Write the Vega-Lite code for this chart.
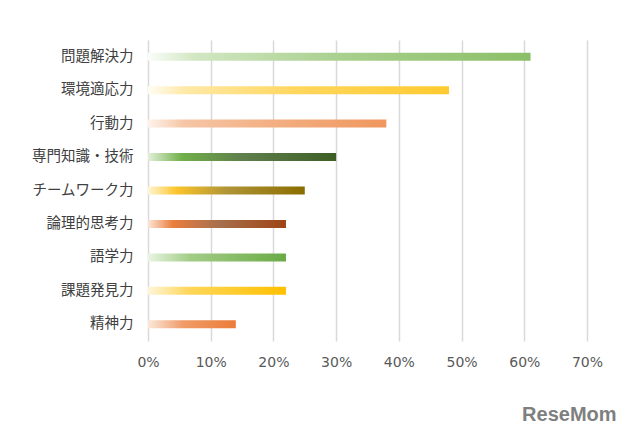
{
  "$schema": "https://vega.github.io/schema/vega-lite/v6.json",
  "autosize": "none",
  "width": 439,
  "height": 301,
  "padding": {"left": 148, "top": 40, "right": 53, "bottom": 97},
  "background": "#ffffff",
  "config": {"view": {"stroke": null}},
  "title": {"text": "ReseMom", "orient": "bottom", "anchor": "end", "fontSize": 20, "font": "Liberation Sans", "fontWeight": "bold", "color": "#7f7f7f", "offset": 36, "dx": 14},
  "data": {"values": [
    {"cat": "問題解決力", "value": 0.61},
    {"cat": "環境適応力", "value": 0.48},
    {"cat": "行動力", "value": 0.38},
    {"cat": "専門知識・技術", "value": 0.30},
    {"cat": "チームワーク力", "value": 0.25},
    {"cat": "論理的思考力", "value": 0.22},
    {"cat": "語学力", "value": 0.22},
    {"cat": "課題発見力", "value": 0.22},
    {"cat": "精神力", "value": 0.14}
  ]},
  "encoding": {
    "y": {"field": "cat", "type": "nominal", "title": null,
      "scale": {"domain": ["問題解決力","環境適応力","行動力","専門知識・技術","チームワーク力","論理的思考力","語学力","課題発見力","精神力"], "paddingInner": 0.75, "paddingOuter": 0.375},
      "axis": {"domain": false, "ticks": false, "labelPadding": 15, "labelFont": "Noto Sans CJK JP", "labelFontSize": 14.5, "labelColor": "#404040", "grid": false}},
    "x": {"field": "value", "type": "quantitative", "title": null,
      "scale": {"domain": [0, 0.7], "nice": false, "zero": true},
      "axis": {"format": ".0%", "values": [0,0.1,0.2,0.3,0.4,0.5,0.6,0.7], "domain": false, "ticks": false, "grid": true, "gridColor": "#d9d9d9", "gridWidth": 1.5, "labelFlush": false, "labelFont": "DejaVu Sans", "labelFontSize": 14, "labelColor": "#595959", "labelPadding": 14}}
  },
  "layer": [
    {"transform": [{"filter": "datum.cat === '問題解決力'"}], "mark": {"type": "bar", "height": 8, "fill": {"gradient": "linear", "x1": 0, "y1": 0, "x2": 1, "y2": 0, "stops": [{"offset": 0, "color": "#fbfdf9"}, {"offset": 0.12, "color": "#d2e7c4"}, {"offset": 0.5, "color": "#a9d08e"}, {"offset": 1, "color": "#8bbf67"}]}}},
    {"transform": [{"filter": "datum.cat === '環境適応力'"}], "mark": {"type": "bar", "height": 8, "fill": {"gradient": "linear", "x1": 0, "y1": 0, "x2": 1, "y2": 0, "stops": [{"offset": 0, "color": "#fffdf4"}, {"offset": 0.12, "color": "#ffe9a8"}, {"offset": 0.5, "color": "#ffd65c"}, {"offset": 1, "color": "#ffca30"}]}}},
    {"transform": [{"filter": "datum.cat === '行動力'"}], "mark": {"type": "bar", "height": 8, "fill": {"gradient": "linear", "x1": 0, "y1": 0, "x2": 1, "y2": 0, "stops": [{"offset": 0, "color": "#fdf3ec"}, {"offset": 0.15, "color": "#f6c6a6"}, {"offset": 0.55, "color": "#f3ad80"}, {"offset": 1, "color": "#ef975e"}]}}},
    {"transform": [{"filter": "datum.cat === '専門知識・技術'"}], "mark": {"type": "bar", "height": 8, "fill": {"gradient": "linear", "x1": 0, "y1": 0, "x2": 1, "y2": 0, "stops": [{"offset": 0, "color": "#e3f0da"}, {"offset": 0.18, "color": "#70b04a"}, {"offset": 0.5, "color": "#5f7f4c"}, {"offset": 1, "color": "#3d5f25"}]}}},
    {"transform": [{"filter": "datum.cat === 'チームワーク力'"}], "mark": {"type": "bar", "height": 8, "fill": {"gradient": "linear", "x1": 0, "y1": 0, "x2": 1, "y2": 0, "stops": [{"offset": 0, "color": "#fff6d6"}, {"offset": 0.18, "color": "#fbc52a"}, {"offset": 0.5, "color": "#b09436"}, {"offset": 1, "color": "#8a6d00"}]}}},
    {"transform": [{"filter": "datum.cat === '論理的思考力'"}], "mark": {"type": "bar", "height": 8, "fill": {"gradient": "linear", "x1": 0, "y1": 0, "x2": 1, "y2": 0, "stops": [{"offset": 0, "color": "#fbe5d6"}, {"offset": 0.18, "color": "#ea7e3e"}, {"offset": 0.5, "color": "#a9704e"}, {"offset": 1, "color": "#9e4414"}]}}},
    {"transform": [{"filter": "datum.cat === '語学力'"}], "mark": {"type": "bar", "height": 8, "fill": {"gradient": "linear", "x1": 0, "y1": 0, "x2": 1, "y2": 0, "stops": [{"offset": 0, "color": "#eaf4e3"}, {"offset": 0.3, "color": "#a3cd87"}, {"offset": 1, "color": "#6aaa45"}]}}},
    {"transform": [{"filter": "datum.cat === '課題発見力'"}], "mark": {"type": "bar", "height": 8, "fill": {"gradient": "linear", "x1": 0, "y1": 0, "x2": 1, "y2": 0, "stops": [{"offset": 0, "color": "#fff6d9"}, {"offset": 0.3, "color": "#ffd659"}, {"offset": 1, "color": "#ffc000"}]}}},
    {"transform": [{"filter": "datum.cat === '精神力'"}], "mark": {"type": "bar", "height": 8, "fill": {"gradient": "linear", "x1": 0, "y1": 0, "x2": 1, "y2": 0, "stops": [{"offset": 0, "color": "#fbe8db"}, {"offset": 0.4, "color": "#f09c68"}, {"offset": 1, "color": "#ec7c38"}]}}}
  ]
}
